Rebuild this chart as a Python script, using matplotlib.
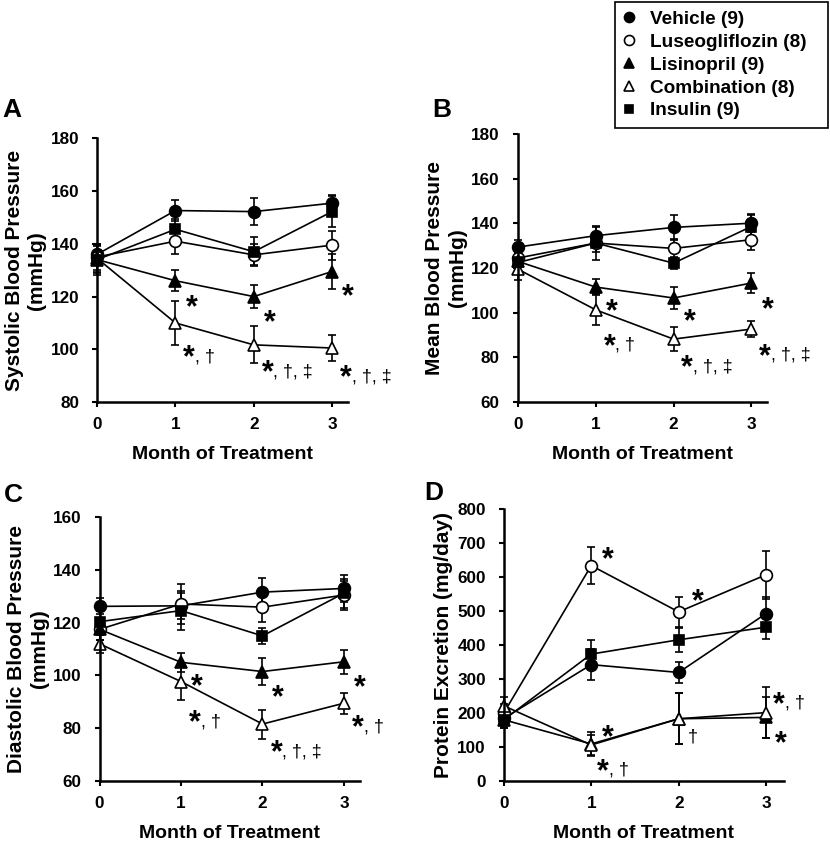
import matplotlib
import matplotlib.pyplot as plt
from matplotlib.lines import Line2D

matplotlib.rcParams['font.family'] = ['Liberation Sans', 'DejaVu Sans']

months = [0, 1, 2, 3]
groups = ['Vehicle (9)', 'Luseogliflozin (8)', 'Lisinopril (9)', 'Combination (8)', 'Insulin (9)']

# Systolic blood pressure (mmHg): vehicle, luseo, lisinopril, combination, insulin
sbp_means = [[136, 152.6, 152.2, 155.4],
             [135, 141, 135.8, 139.5],
             [134, 126, 120, 129.5],
             [134.5, 110, 101.7, 100.5],
             [134, 145.5, 137, 152.2]]
sbp_errs = [[4, 4, 5, 3],
            [5, 5, 4, 5.5],
            [6, 4, 4.5, 6.5],
            [5, 8.5, 7, 5],
            [5, 4, 5.5, 6]]

# Mean blood pressure (mmHg)
mbp_means = [[129.4, 134.5, 138.2, 140.1],
             [124.5, 131.2, 128.8, 132.7],
             [123, 111.5, 106.6, 113.3],
             [119.5, 101.3, 88.2, 92.7],
             [122.5, 131.2, 122.2, 138.6]]
mbp_errs = [[3, 4, 5.5, 4],
            [4, 4, 4, 4.5],
            [4, 3.5, 5, 4.5],
            [5, 7, 5.5, 3.5],
            [4, 7.5, 2.5, 5]]

# Diastolic blood pressure (mmHg)
dbp_means = [[126.2, 126.4, 131.6, 133],
             [117.5, 127.1, 125.9, 130.5],
             [117.5, 105, 101.5, 105.2],
             [112, 97.7, 81.6, 89.5],
             [120.4, 124.6, 115, 131.2]]
dbp_errs = [[3, 5, 5.5, 5],
            [4, 7.5, 5.5, 5.5],
            [4, 3.5, 5, 4.5],
            [3.5, 7, 5.5, 4],
            [4, 7.5, 3, 5.5]]

# Protein excretion (mg/day)
prot_means = [[184, 342, 319, 492],
              [200, 633, 497, 606],
              [180, 109, 183, 187],
              [221, 106, 183, 201],
              [180, 373, 415, 452]]
prot_errs = [[25, 45, 32, 50],
             [25, 55, 45, 70],
             [25, 35, 75, 60],
             [25, 30, 75, 75],
             [25, 40, 35, 35]]

# significance marks: (month, value, suffix after the asterisk)
sbp_notes = [(1.13, 119.5, ''), (2.13, 114, ''), (3.13, 123.6, ''),
             (1.1, 100.5, ', †'), (2.1, 94.8, ', †, ‡'), (3.1, 92.9, ', †, ‡')]
mbp_notes = [(1.13, 105, ''), (2.13, 100.6, ''), (3.13, 105.8, ''),
             (1.1, 89.4, ', †'), (2.1, 79.7, ', †, ‡'), (3.1, 84.9, ', †, ‡')]
dbp_notes = [(1.12, 99.6, ''), (2.12, 95.2, ''), (3.12, 99, ''),
             (1.1, 85.7, ', †'), (2.1, 74.3, ', †, ‡'), (3.1, 83.8, ', †')]
prot_notes = [(1.12, 680, ''), (2.15, 557, ''), (1.12, 155, ''), (1.07, 57, ', †'),
              (3.08, 253, ', †'), (3.1, 140, '')]
prot_dagger = [(2.1, 130)]

markers = ['o', 'o', '^', '^', 's']
fills = ['black', 'white', 'black', 'white', 'black']
sizes = [8.5, 8.5, 9, 9, 7.5]


def star(ax, x, y, suffix):
    t = ax.annotate('*', xy=(x, y), xytext=(0, -7.5), textcoords='offset points',
                    ha='left', va='center', fontsize=22, fontweight='bold',
                    annotation_clip=False)
    if suffix:
        ax.annotate(suffix, xy=(1.0, 0.28), xycoords=t, ha='left', va='bottom',
                    fontsize=13)


def draw_panel(ax, means, errs, ylim, yticks, ylabel, notes):
    for m, e, mk, fc, ms in zip(means, errs, markers, fills, sizes):
        cont = ax.errorbar(months, m, yerr=e, color='black', marker=mk, mfc=fc,
                           mec='black', mew=1.2, ms=ms, lw=1.2, elinewidth=1.2,
                           capsize=3, capthick=1.2)
        for art in cont.get_children():
            art.set_clip_on(False)
    ax.set_xlim(0, 3.2)
    ax.set_ylim(*ylim)
    ax.set_xticks(months)
    ax.set_yticks(yticks)
    for s in ['top', 'right']:
        ax.spines[s].set_visible(False)
    for s in ['left', 'bottom']:
        ax.spines[s].set_linewidth(1.8)
    ax.tick_params(direction='out', length=3.5, width=1.5, labelsize=12.3)
    ax.tick_params(axis='y', pad=9.5)
    ax.tick_params(axis='x', pad=7)
    for lbl in ax.get_xticklabels() + ax.get_yticklabels():
        lbl.set_fontweight('bold')
    ax.set_xlabel('Month of Treatment', fontsize=14, fontweight='bold', labelpad=10.5)
    ax.set_ylabel(ylabel, fontsize=15, fontweight='bold', labelpad=3,
                  linespacing=1.25)
    for x, y, suf in notes:
        star(ax, x, y, suf)


fig = plt.figure(figsize=(8.3, 8.43), dpi=100)
axA = fig.add_axes([0.117, 0.523, 0.302, 0.313])
axB = fig.add_axes([0.624, 0.523, 0.300, 0.318])
axC = fig.add_axes([0.120, 0.0735, 0.314, 0.313])
axD = fig.add_axes([0.607, 0.0735, 0.337, 0.323])

draw_panel(axA, sbp_means, sbp_errs, (80, 180), range(80, 181, 20),
           'Systolic Blood Pressure\n(mmHg)', sbp_notes)
draw_panel(axB, mbp_means, mbp_errs, (60, 180), range(60, 181, 20),
           'Mean Blood Pressure\n(mmHg)', mbp_notes)
draw_panel(axC, dbp_means, dbp_errs, (60, 160), range(60, 161, 20),
           'Diastolic Blood Pressure\n(mmHg)', dbp_notes)
draw_panel(axD, prot_means, prot_errs, (0, 800), range(0, 801, 100),
           'Protein Excretion (mg/day)', prot_notes)
for x, y in prot_dagger:
    axD.text(x, y, '†', fontsize=13, ha='left', va='center')

for letter, x, y in [('A', 2, 98), ('B', 432, 98), ('C', 4, 483), ('D', 424, 481)]:
    fig.text(x / 830, 1 - y / 843, letter, fontsize=19, fontweight='bold',
             ha='left', va='top')

handles = [Line2D([], [], linestyle='none', marker=mk, mfc=fc, mec='black',
                  mew=1.2, ms=ms * 0.85) for mk, fc, ms in zip(markers, fills, sizes)]
leg = fig.legend(handles, groups, loc='upper left',
                 bbox_to_anchor=(615 / 830, 1 - 3 / 843, 213 / 830, 0.001),
                 mode='expand', frameon=True, fancybox=False, edgecolor='black',
                 framealpha=1, prop={'weight': 'bold', 'size': 13.7},
                 handlelength=0.6, handletextpad=0.77, labelspacing=0.29,
                 borderpad=0.45, borderaxespad=0)
leg.get_frame().set_linewidth(1.2)

fig.savefig('out.png', dpi=100)
